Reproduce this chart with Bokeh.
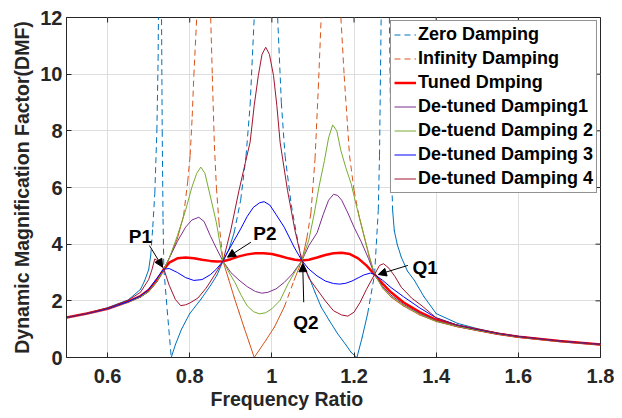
import math
from bokeh.plotting import figure
from bokeh.models import (Range1d, FixedTicker, Legend, LegendItem,
                          Label, Arrow, NormalHead, Title)
from bokeh.embed import file_html
from bokeh.resources import INLINE

nan = float("nan")

# ---------------- data ----------------
x_ticks = [0.6, 0.8, 1.0, 1.2, 1.4, 1.6, 1.8]
x_tick_labels = ["0.6", "0.8", "1", "1.2", "1.4", "1.6", "1.8"]
y_ticks = [0, 2, 4, 6, 8, 10, 12]
y_tick_labels = ["0", "2", "4", "6", "8", "10", "12"]

series_names = ["Zero Damping", "Infinity Damping", "Tuned Dmping", "De-tuned Damping1",
                "De-tuend Damping 2", "De-tuned Damping 3", "De-tuned Damping 4"]

f_zero = [0.50, 0.55, 0.60, 0.65, 0.68, 0.69, 0.70, 0.705, 0.71, 0.715, 0.72, 0.723, 0.726, nan,
          0.728, 0.731, 0.733, 0.735, 0.737, 0.745, 0.755, 0.765, 0.78, 0.80, 0.827, 0.851, 0.866,
          0.881, 0.895, 0.908, 0.924, 0.937, 0.947, 0.957, 0.965, nan,
          1.005, 1.014, 1.023, 1.032, 1.047, 1.06, 1.073, 1.09, 1.105, 1.12, 1.14, 1.16, 1.18,
          1.193, 1.207, 1.22, 1.233, 1.25, 1.259, 1.262, 1.266, 1.27, nan,
          1.281, 1.286, 1.29, 1.294, 1.298, 1.305, 1.315, 1.33, 1.347, 1.37, 1.40, 1.453, 1.50,
          1.55, 1.60, 1.70, 1.80]
dmf_zero = [1.41, 1.56, 1.76, 2.03, 2.4, 2.7, 3.1, 3.6, 4.6, 5.8, 8.0, 10.5, 16, nan,
            20, 13, 8.0, 4.9, 3.12, 1.7, 0.0, 0.45, 1.0, 1.55, 2.05, 2.55, 2.9,
            3.40, 3.8, 4.4, 5.55, 7.1, 8.9, 12, 17, nan,
            17, 12, 9.0, 7.13, 5.4, 4.35, 3.42, 2.85, 2.3, 1.78, 1.3, 0.84, 0.45,
            0.18, 0.0, 0.72, 1.54, 2.93, 5.19, 7.13, 12, 18, nan,
            18, 12, 7.13, 5.19, 4.48, 4.0, 3.54, 3.05, 2.72, 2.15, 1.55, 1.2, 1.02,
            0.86, 0.75, 0.59, 0.47]

f_inf = [0.50, 0.55, 0.60, 0.65, 0.68, 0.70, 0.72, 0.737, 0.75, 0.77, 0.785, 0.795, 0.801, 0.806,
         0.81, 0.817, 0.824, nan,
         0.846, 0.851, 0.855, 0.86, 0.865, 0.871, 0.881, 0.895, 0.908, 0.92, 0.932, 0.945, 0.957,
         0.97, 0.985, 1.006, 1.03, 1.054, 1.073, 1.085, 1.095, 1.105, 1.113, 1.12, 1.128, nan,
         1.16, 1.168, 1.176, 1.189, 1.20, 1.212, 1.225, 1.237, 1.25, 1.27, 1.29, 1.32, 1.36,
         1.40, 1.45, 1.50, 1.55, 1.60, 1.70, 1.80]
dmf_inf = [1.41, 1.55, 1.72, 1.96, 2.13, 2.32, 2.67, 3.12, 3.5, 4.2, 5.0, 6.2, 7.13, 8.5,
           9.95, 12.0, 16, nan,
           16, 12, 9.95, 7.5, 6.0, 4.8, 3.40, 2.75, 2.13, 1.6, 1.07, 0.52, 0.0,
           0.28, 0.6, 1.07, 1.78, 2.72, 3.42, 4.2, 5.1, 7.0, 9.5, 12, 16, nan,
           16, 12, 9.95, 7.13, 5.9, 5.0, 4.25, 3.55, 2.93, 2.45, 2.13, 1.82, 1.5,
           1.27, 1.09, 0.95, 0.82, 0.71, 0.56, 0.44]

f_tuned = [0.50, 0.55, 0.60, 0.65, 0.68, 0.70, 0.72, 0.737, 0.75, 0.77, 0.79, 0.81, 0.83, 0.85,
           0.865, 0.881, 0.90, 0.92, 0.94, 0.96, 0.98, 1.00, 1.02, 1.04, 1.056, 1.073, 1.09,
           1.11, 1.13, 1.15, 1.17, 1.19, 1.21, 1.23, 1.25, 1.27, 1.29, 1.32, 1.36, 1.40, 1.45,
           1.50, 1.55, 1.60, 1.70, 1.80]
dmf_tuned = [1.41, 1.55, 1.72, 1.97, 2.17, 2.38, 2.72, 3.12, 3.35, 3.5, 3.53, 3.5, 3.45, 3.41,
             3.39, 3.40, 3.47, 3.57, 3.64, 3.68, 3.68, 3.65, 3.58, 3.5, 3.45, 3.42, 3.45,
             3.53, 3.62, 3.68, 3.70, 3.65, 3.5, 3.25, 2.93, 2.6, 2.3, 1.95, 1.6, 1.33, 1.12,
             0.98, 0.84, 0.73, 0.58, 0.46]

f_dt1 = [0.50, 0.55, 0.60, 0.65, 0.68, 0.70, 0.72, 0.737, 0.75, 0.77, 0.79, 0.805, 0.822, 0.835,
         0.85, 0.865, 0.881, 0.90, 0.92, 0.94, 0.96, 0.975, 0.99, 1.01, 1.03, 1.05, 1.073, 1.09,
         1.11, 1.125, 1.138, 1.15, 1.16, 1.17, 1.185, 1.20, 1.217, 1.235, 1.25, 1.27, 1.29,
         1.32, 1.36, 1.40, 1.45, 1.50, 1.55, 1.60, 1.70, 1.80]
dmf_dt1 = [1.41, 1.55, 1.72, 1.96, 2.14, 2.33, 2.68, 3.12, 3.5, 4.1, 4.6, 4.85, 4.95, 4.8,
           4.3, 3.85, 3.40, 3.0, 2.73, 2.5, 2.33, 2.27, 2.3, 2.42, 2.65, 2.95, 3.42, 3.95,
           4.4, 5.05, 5.55, 5.76, 5.72, 5.55, 5.1, 4.6, 4.1, 3.5, 2.93, 2.5, 2.2,
           1.88, 1.55, 1.3, 1.11, 0.97, 0.84, 0.73, 0.58, 0.46]

f_dt2 = [0.50, 0.55, 0.60, 0.65, 0.68, 0.70, 0.72, 0.737, 0.75, 0.77, 0.79, 0.805, 0.817, 0.827,
         0.837, 0.85, 0.865, 0.881, 0.895, 0.91, 0.925, 0.94, 0.955, 0.97, 0.985, 1.00, 1.02,
         1.04, 1.056, 1.073, 1.09, 1.103, 1.115, 1.128, 1.138, 1.148, 1.158, 1.168, 1.18, 1.193,
         1.205, 1.217, 1.235, 1.25, 1.27, 1.29, 1.32, 1.36, 1.40, 1.45, 1.50, 1.55, 1.60, 1.70,
         1.80]
dmf_dt2 = [1.41, 1.55, 1.72, 1.96, 2.14, 2.33, 2.68, 3.12, 3.5, 4.3, 5.2, 6.0, 6.5, 6.72,
           6.5, 5.7, 4.75, 3.40, 3.02, 2.65, 2.2, 1.82, 1.62, 1.54, 1.58, 1.72, 2.02,
           2.62, 3.02, 3.42, 4.15, 5.07, 6.05, 6.95, 7.75, 8.21, 8.0, 7.3, 6.7, 6.13,
           5.4, 4.72, 3.7, 2.93, 2.45, 2.15, 1.85, 1.52, 1.28, 1.1, 0.96, 0.83, 0.72, 0.57,
           0.45]

f_dt3 = [0.50, 0.55, 0.60, 0.65, 0.68, 0.70, 0.72, 0.737, 0.75, 0.77, 0.79, 0.81, 0.83, 0.85,
         0.865, 0.881, 0.892, 0.908, 0.924, 0.94, 0.955, 0.97, 0.981, 0.995, 1.01, 1.03, 1.054,
         1.073, 1.09, 1.11, 1.13, 1.15, 1.165, 1.18, 1.195, 1.21, 1.225, 1.24, 1.25, 1.27, 1.29,
         1.32, 1.36, 1.40, 1.45, 1.50, 1.55, 1.60, 1.70, 1.80]
dmf_dt3 = [1.41, 1.55, 1.72, 1.97, 2.17, 2.4, 2.8, 3.12, 3.14, 3.0, 2.82, 2.72, 2.75, 2.92,
           3.12, 3.40, 3.72, 4.13, 4.54, 4.98, 5.3, 5.46, 5.5, 5.38, 5.05, 4.6, 3.9,
           3.42, 3.12, 2.88, 2.7, 2.61, 2.59, 2.62, 2.7, 2.81, 2.92, 2.98, 2.93, 2.72, 2.47,
           2.15, 1.75, 1.4, 1.15, 0.99, 0.85, 0.74, 0.58, 0.46]

f_dt4 = [0.50, 0.55, 0.60, 0.65, 0.68, 0.70, 0.708, 0.715, 0.725, 0.737, 0.75, 0.765, 0.778,
         0.79, 0.80, 0.82, 0.84, 0.86, 0.881, 0.90, 0.92, 0.935, 0.947, 0.957, 0.967, 0.976,
         0.985, 0.994, 1.004, 1.012, 1.02, 1.038, 1.056, 1.073, 1.09, 1.11, 1.13, 1.15, 1.17,
         1.185, 1.20, 1.215, 1.23, 1.25, 1.262, 1.272, 1.285, 1.30, 1.315, 1.34, 1.363, 1.40,
         1.45, 1.50, 1.55, 1.60, 1.70, 1.80]
dmf_dt4 = [1.41, 1.56, 1.74, 2.02, 2.3, 2.75, 3.1, 3.48, 3.38, 3.12, 2.55, 2.05, 1.83,
           1.86, 1.92, 2.1, 2.45, 2.9, 3.40, 4.5, 5.9, 6.85, 7.6, 8.9, 9.95, 10.7,
           10.95, 10.7, 9.95, 8.9, 7.6, 5.9, 4.5, 3.42, 2.8, 2.4, 2.0, 1.65, 1.5,
           1.46, 1.6, 1.95, 2.4, 2.93, 3.25, 3.31, 3.15, 2.85, 2.48, 2.1, 1.85, 1.4,
           1.15, 1.0, 0.86, 0.74, 0.58, 0.46]

# fixed-point annotations: label, text position, arrow start, arrow tip (data units)
ann_text = ["P1", "P2", "Q2", "Q1"]
ann_text_f = [0.680, 0.983, 1.083, 1.373]
ann_text_v = [4.27, 4.39, 1.24, 3.18]
ann_from_f = [0.702, 0.949, 1.0775, 1.331]
ann_from_v = [3.95, 4.07, 1.95, 3.25]
ann_to_f = [0.734, 0.892, 1.075, 1.259]
ann_to_v = [3.19, 3.54, 3.31, 2.93]

x_title = "Frequency Ratio"
y_title = "Dynamic Magnification Factor(DMF)"

# ---------------- figure ----------------
FONT = "Liberation Sans"
DARK = "#262626"
X0, X1, Y0, Y1 = 0.5, 1.8, 0.0, 12.0
W, H = 614, 418
BL, BR, BT, BB = 66, 14, 17, 61
SX = (W - BL - BR) / (X1 - X0)   # px per x unit
SY = (H - BT - BB) / (Y1 - Y0)   # px per y unit

p = figure(width=W, height=H, output_backend="svg", toolbar_location=None,
           x_range=Range1d(X0, X1), y_range=Range1d(Y0, Y1),
           min_border_left=BL, min_border_right=BR, min_border_top=BT, min_border_bottom=BB)
p.outline_line_color = DARK
p.outline_line_width = 1
p.background_fill_color = "white"

for ax, ticks, labels in ((p.xaxis[0], x_ticks, x_tick_labels), (p.yaxis[0], y_ticks, y_tick_labels)):
    ax.ticker = FixedTicker(ticks=ticks)
    ax.major_label_overrides = dict(zip(ticks, labels))
    ax.major_tick_in = 5
    ax.major_tick_out = 0
    ax.minor_tick_line_color = None
    ax.axis_line_color = DARK
    ax.major_tick_line_color = DARK
    ax.major_label_text_font = FONT
    ax.major_label_text_font_style = "bold"
    ax.major_label_text_font_size = "20px"
    ax.major_label_text_color = DARK
    ax.axis_label_text_font = FONT
    ax.axis_label_text_font_style = "bold"
    ax.axis_label_text_color = DARK

p.yaxis.axis_label = y_title
p.yaxis.axis_label_text_font_size = "19.5px"
p.xaxis.major_label_standoff = 11
p.yaxis.major_label_standoff = 4
p.yaxis.axis_label_standoff = 4

# x title: in the reference it sits left of the axis centre, so it is placed as a
# left-aligned title below the axis
p.add_layout(Title(text=x_title, align="left", offset=144, standoff=0,
                   text_font=FONT, text_font_style="bold", text_font_size="19.5px",
                   text_color=DARK), "below")

p.xgrid.ticker = FixedTicker(ticks=x_ticks)
p.ygrid.ticker = FixedTicker(ticks=y_ticks)
p.xgrid.grid_line_color = "#dedede"
p.ygrid.grid_line_color = "#dedede"

# inward ticks on the top and right edges of the box (5 px long)
p.segment(x0=x_ticks, y0=[Y1] * len(x_ticks), x1=x_ticks, y1=[Y1 - 5 / SY] * len(x_ticks),
          line_color=DARK, line_width=1)
p.segment(x0=[X1] * len(y_ticks), y0=y_ticks, x1=[X1 - 5 / SX] * len(y_ticks), y1=y_ticks,
          line_color=DARK, line_width=1)


def dashed_series(xs, ys, color):
    """MATLAB-like dashed line: the dash pattern restarts on every data segment, so
    only the long (steep) segments show visible dashes."""
    steep = {"x0": [], "y0": [], "x1": [], "y1": []}
    flat = {"x0": [], "y0": [], "x1": [], "y1": []}
    for a, b, c, d in zip(xs[:-1], ys[:-1], xs[1:], ys[1:]):
        if any(math.isnan(v) for v in (a, b, c, d)):
            continue
        tgt = steep if abs(d - b) * SY > 25 else flat
        tgt["x0"].append(a); tgt["y0"].append(b); tgt["x1"].append(c); tgt["y1"].append(d)
    p.segment(line_color=color, line_width=1, line_cap="round", **flat)
    return p.segment(line_color=color, line_width=1, line_dash="6 4", **steep)


items = []
r = dashed_series(f_zero, dmf_zero, "#0072BD")
items.append(LegendItem(label=series_names[0], renderers=[r]))
r = dashed_series(f_inf, dmf_inf, "#D95319")
items.append(LegendItem(label=series_names[1], renderers=[r]))

solid_styles = [
    (f_tuned, dmf_tuned, "#FF0000", 2.5),
    (f_dt1, dmf_dt1, "#7E2F8E", 1.0),
    (f_dt2, dmf_dt2, "#77AC30", 1.0),
    (f_dt3, dmf_dt3, "#0000FF", 1.0),
    (f_dt4, dmf_dt4, "#A2142F", 1.0),
]
for name, (xs, ys, col, lw) in zip(series_names[2:], solid_styles):
    r = p.line(xs, ys, line_color=col, line_width=lw)
    items.append(LegendItem(label=name, renderers=[r]))

legend = Legend(items=items, location="top_right")
legend.label_text_font = FONT
legend.label_text_font_style = "bold"
legend.label_text_font_size = "18px"
legend.label_text_color = "black"
legend.border_line_color = DARK
legend.border_line_width = 1
legend.background_fill_alpha = 1.0
legend.margin = 3
legend.padding = 3
legend.spacing = 3
legend.label_height = 21
legend.glyph_height = 21
legend.glyph_width = 22
legend.label_standoff = 2
p.add_layout(legend, "center")

for t, tx, ty, fx, fy, ex, ey in zip(ann_text, ann_text_f, ann_text_v, ann_from_f, ann_from_v,
                                     ann_to_f, ann_to_v):
    p.add_layout(Label(x=tx, y=ty, text=t, text_font=FONT, text_font_style="bold",
                       text_font_size="19px", text_align="center", text_baseline="middle",
                       text_color="black"))
    p.add_layout(Arrow(x_start=fx, y_start=fy, x_end=ex, y_end=ey, line_color="black",
                       line_width=1,
                       end=NormalHead(size=8, fill_color="black", line_color="black")))

open("out.html", "w").write(file_html(p, INLINE))
